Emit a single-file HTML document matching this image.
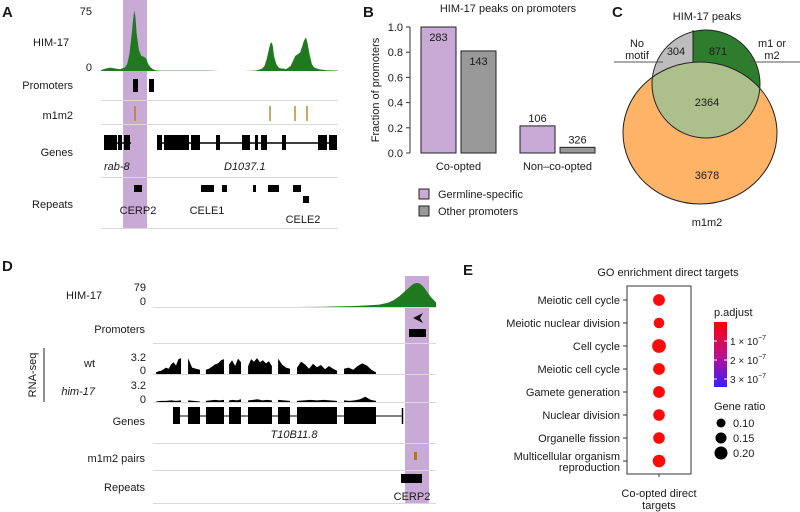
<!DOCTYPE html>
<html><head><meta charset="utf-8"><style>
html,body{margin:0;padding:0;background:#fff;}
svg{display:block;font-family:"Liberation Sans",Arial,sans-serif;}
text{fill:#1a1a1a;}
</style></head><body>
<svg id="fig" width="800" height="512" viewBox="0 0 800 512" xmlns="http://www.w3.org/2000/svg">
<defs>
<linearGradient id="padj" x1="0" y1="0" x2="0" y2="1">
<stop offset="0" stop-color="#ff0000"/><stop offset="0.5" stop-color="#c0108a"/><stop offset="1" stop-color="#3a1cff"/>
</linearGradient>
</defs>

<!-- ===== Panel A ===== -->
<g id="panelA">
<text x="2" y="17" font-size="15" font-weight="bold">A</text>
<rect x="123" y="0" width="24" height="228" fill="#c9a9d6"/>
<text x="33" y="46" font-size="11">HIM-17</text>
<text x="92" y="15" font-size="11" text-anchor="end">75</text>
<text x="92" y="71" font-size="11" text-anchor="end">0</text>
<path id="covA" fill="#1f7a1f"/>
<g stroke="#d9d9d9" stroke-width="1">
<line x1="101" y1="100.5" x2="338" y2="100.5"/><line x1="101" y1="124.5" x2="338" y2="124.5"/>
<line x1="101" y1="177.5" x2="338" y2="177.5"/><line x1="101" y1="228.5" x2="338" y2="228.5"/>
</g>
<text x="73" y="89" font-size="11" text-anchor="end">Promoters</text>
<rect x="133" y="79" width="5" height="13" fill="#000"/>
<rect x="149" y="79" width="5" height="13" fill="#000"/>
<text x="73" y="119" font-size="11" text-anchor="end">m1m2</text>
<g stroke="#b07a10" stroke-width="1.3">
<line x1="135" y1="106" x2="135" y2="121"/><line x1="270" y1="106" x2="270" y2="121"/>
<line x1="295" y1="106" x2="295" y2="121"/><line x1="307" y1="106" x2="307" y2="121"/>
</g>
<text x="73" y="156" font-size="11" text-anchor="end">Genes</text>
<g fill="#000">
<line x1="104" y1="143" x2="131" y2="143" stroke="#000" stroke-width="1.5"/>
<line x1="157" y1="143" x2="337" y2="143" stroke="#000" stroke-width="1.5"/>
<rect x="104" y="135" width="13" height="15"/><rect x="118" y="135" width="4" height="15"/><rect x="124" y="135" width="6" height="15"/>
<rect x="157" y="135" width="5" height="15"/><rect x="164" y="135" width="10" height="15"/><rect x="174" y="135" width="15" height="15"/>
<rect x="191" y="135" width="9" height="15"/><rect x="216" y="135" width="4" height="15"/><rect x="242" y="135" width="8" height="15"/>
<rect x="255" y="135" width="3" height="15"/><rect x="261" y="135" width="6" height="15"/><rect x="282" y="135" width="4" height="15"/>
<rect x="318" y="135" width="9" height="15"/><rect x="329" y="135" width="8" height="15"/>
</g>
<text x="104" y="170" font-size="11" font-style="italic">rab-8</text>
<text x="224" y="170" font-size="11" font-style="italic">D1037.1</text>
<text x="73" y="208" font-size="11" text-anchor="end">Repeats</text>
<g fill="#000">
<rect x="134" y="185" width="8" height="7"/><rect x="201" y="185" width="13" height="7"/><rect x="222" y="185" width="5" height="7"/>
<rect x="253" y="185" width="3" height="7"/><rect x="268" y="185" width="11" height="7"/><rect x="293" y="185" width="8" height="7"/>
<rect x="303" y="196" width="6" height="7"/>
</g>
<text x="138" y="214" font-size="11" text-anchor="middle">CERP2</text>
<text x="207" y="214" font-size="11" text-anchor="middle">CELE1</text>
<text x="303" y="223" font-size="11" text-anchor="middle">CELE2</text>
</g>

<!-- ===== Panel B ===== -->
<g id="panelB">
<text x="363" y="17" font-size="15" font-weight="bold">B</text>
<text x="508" y="12" font-size="11" text-anchor="middle">HIM-17 peaks on promoters</text>
<text transform="translate(379,90) rotate(-90)" font-size="11" text-anchor="middle">Fraction of promoters</text>
<g id="axisB"></g>
<g id="barsB"></g>
<rect x="419" y="189" width="10" height="10" fill="#c9a9d6" stroke="#222" stroke-width="1"/>
<text x="438" y="198" font-size="11">Germline-specific</text>
<rect x="419" y="206" width="10" height="10" fill="#999" stroke="#222" stroke-width="1"/>
<text x="438" y="215" font-size="11">Other promoters</text>
</g>

<!-- ===== Panel C ===== -->
<g id="panelC">
<text x="612" y="17" font-size="15" font-weight="bold">C</text>
<text x="707" y="20" font-size="11" text-anchor="middle">HIM-17 peaks</text>
<clipPath id="cTop"><circle cx="706" cy="84" r="54"/></clipPath>
<ellipse cx="700" cy="133" rx="77" ry="71" fill="#ffb366" stroke="#222" stroke-width="1"/>
<g clip-path="url(#cTop)">
<rect x="640" y="25" width="53" height="120" fill="#bdbdbd"/>
<rect x="693" y="25" width="80" height="120" fill="#2e7d2e"/>
<ellipse cx="700" cy="133" rx="77" ry="71" fill="#adbf8b" stroke="#222" stroke-width="1"/>
</g>
<circle cx="706" cy="84" r="54" fill="none" stroke="#222" stroke-width="1"/>
<line x1="693" y1="30" x2="693" y2="63" stroke="#222" stroke-width="1"/>
<line x1="614" y1="62" x2="663" y2="62" stroke="#555" stroke-width="1"/>
<line x1="750" y1="62" x2="800" y2="62" stroke="#555" stroke-width="1"/>
<text x="637" y="47" font-size="11" text-anchor="middle">No</text>
<text x="637" y="59" font-size="11" text-anchor="middle">motif</text>
<text x="772" y="47" font-size="11" text-anchor="middle">m1 or</text>
<text x="772" y="59" font-size="11" text-anchor="middle">m2</text>
<text x="676" y="55" font-size="11" text-anchor="middle">304</text>
<text x="718" y="55" font-size="11" text-anchor="middle">871</text>
<text x="707" y="106" font-size="11" text-anchor="middle">2364</text>
<text x="707" y="179" font-size="11" text-anchor="middle">3678</text>
<text x="707" y="226" font-size="11" text-anchor="middle">m1m2</text>
</g>

<!-- ===== Panel D ===== -->
<g id="panelD">
<text x="2" y="271" font-size="15" font-weight="bold">D</text>
<rect x="405" y="276" width="24" height="227" fill="#c9a9d6"/>
<text x="66" y="299" font-size="11">HIM-17</text>
<text x="146" y="291" font-size="11" text-anchor="end">79</text>
<text x="146" y="305" font-size="11" text-anchor="end">0</text>
<path id="covD" fill="#1f7a1f"/>
<g stroke="#d9d9d9" stroke-width="1">
<line x1="153" y1="307.5" x2="436" y2="307.5"/><line x1="153" y1="343.5" x2="436" y2="343.5"/>
<line x1="153" y1="374.5" x2="436" y2="374.5"/><line x1="153" y1="402.5" x2="436" y2="402.5"/>
<line x1="153" y1="443.5" x2="436" y2="443.5"/><line x1="153" y1="470.5" x2="436" y2="470.5"/>
<line x1="153" y1="503.5" x2="436" y2="503.5"/>
</g>
<text x="145" y="333" font-size="11" text-anchor="end">Promoters</text>
<path d="M413,318 L423,313 L420,318 L423,323 Z" fill="#111"/>
<rect x="409" y="329" width="17" height="8" fill="#000"/>
<line x1="44" y1="348" x2="44" y2="402" stroke="#222" stroke-width="1"/>
<text transform="translate(36,375) rotate(-90)" font-size="11" text-anchor="middle">RNA-seq</text>
<text x="95" y="367" font-size="11" text-anchor="end">wt</text>
<text x="146" y="361" font-size="11" text-anchor="end">3.2</text>
<text x="146" y="374" font-size="11" text-anchor="end">0</text>
<text x="95" y="395" font-size="11" font-style="italic" text-anchor="end">him-17</text>
<text x="146" y="389" font-size="11" text-anchor="end">3.2</text>
<text x="146" y="403" font-size="11" text-anchor="end">0</text>
<g id="rnaWt" fill="#000"></g>
<g id="rnaMut" fill="#000"></g>
<text x="145" y="425" font-size="11" text-anchor="end">Genes</text>
<g fill="#000">
<line x1="173" y1="416" x2="402" y2="416" stroke="#000" stroke-width="1"/>
<line x1="402.5" y1="408" x2="402.5" y2="424" stroke="#000" stroke-width="1.5"/>
<rect x="173" y="407" width="7" height="17"/><rect x="188" y="407" width="12" height="17"/><rect x="206" y="407" width="18" height="17"/>
<rect x="229" y="407" width="12" height="17"/><rect x="248" y="407" width="24" height="17"/><rect x="278" y="407" width="12" height="17"/>
<rect x="297" y="407" width="40" height="17"/><rect x="344" y="407" width="32" height="17"/>
</g>
<text x="294" y="438" font-size="11" font-style="italic" text-anchor="middle">T10B11.8</text>
<text x="145" y="462" font-size="11" text-anchor="end">m1m2 pairs</text>
<rect x="414" y="452" width="3" height="8" fill="#b07a10"/>
<text x="145" y="491" font-size="11" text-anchor="end">Repeats</text>
<rect x="401" y="474" width="21" height="9" fill="#000"/>
<text x="412" y="500" font-size="11" text-anchor="middle">CERP2</text>
</g>

<!-- ===== Panel E ===== -->
<g id="panelE">
<text x="463" y="275" font-size="15" font-weight="bold">E</text>
<text x="668" y="276" font-size="11" text-anchor="middle">GO enrichment direct targets</text>
<rect x="627" y="286" width="64" height="188" fill="none" stroke="#333" stroke-width="1"/>
<g id="dotsE"></g>
<line x1="659" y1="474" x2="659" y2="477" stroke="#333"/>
<text x="659" y="497" font-size="11" text-anchor="middle">Co-opted direct</text>
<text x="659" y="509" font-size="11" text-anchor="middle">targets</text>
<text x="714" y="316" font-size="11">p.adjust</text>
<rect x="714" y="322" width="13" height="65" fill="url(#padj)"/>
<g stroke="#fff" stroke-width="1">
<line x1="714" y1="341" x2="717" y2="341"/><line x1="724" y1="341" x2="727" y2="341"/>
<line x1="714" y1="360" x2="717" y2="360"/><line x1="724" y1="360" x2="727" y2="360"/>
<line x1="714" y1="379" x2="717" y2="379"/><line x1="724" y1="379" x2="727" y2="379"/>
</g>
<text x="730" y="345" font-size="10">1 × 10<tspan dy="-5" font-size="7">−7</tspan></text>
<text x="730" y="364" font-size="10">2 × 10<tspan dy="-5" font-size="7">−7</tspan></text>
<text x="730" y="383" font-size="10">3 × 10<tspan dy="-5" font-size="7">−7</tspan></text>
<text x="714" y="410" font-size="11">Gene ratio</text>
<g id="sizeLegend"></g>
</g>
</svg>

<script>
// ---- Panel A HIM-17 coverage (position % of window, signal) ----
const aPos = [0,2,4,6,8,10,11,12,13,13.5,14,14.5,15,16,17,18,19,20,21,22,23,25,30,35,40,45,50,60,65,66,68,69,70,71,71.5,72,72.5,73,74,75,76,77,78,79,80,81,82,83,84,85,85.5,86,86.5,87,88,89,90,92,95,100];
const aVal = [1,3,4,3,2,4,8,20,45,60,72,65,45,25,18,17,15,8,4,2,1,0.5,0.5,0.5,0.5,0.5,0,0,0.5,1,3,6,15,28,33,34,30,18,8,4,3,3,2,4,6,12,18,20,22,30,35,38,40,35,20,8,4,2,1,0.5];
// ---- Panel D HIM-17 coverage ----
const dPos = [0,50,60,65,70,75,80,83,85,87,89,91,92,93,94,95,96,97,98,100];
const dVal = [0,0,0.5,2,3,5,8,14,22,35,52,68,76,79,78,72,62,48,35,15];
// ---- Panel D RNA-seq (segments: start %, end %, values) ----
const rnaStart = [1.1,12.4,18.7,26.9,33.6,44.2,50.9,67.5];
const rnaEnd = [9.9,16.6,25.1,31.1,42,48.4,65,78.8];
const wtVals = [[0.3,0.5,0.6,0.9,1.2,1.0,1.8,2.2,1.6,2.8,3.0],[3.0,1.2,1.0,0.8],[0.8,1.0,1.4,1.8,2.0,2.6,2.8],[1.8,2.6,1.5,2.9,2.2],[1.5,2.8,2.3,3.0,2.2,2.6,2.0,2.4,1.5],[2.9,1.8,1.2,1.0],[1.2,2.3,1.8,1.0,1.9,1.3,1.7,0.9,1.5,1.0,0.6],[1.0,1.2,0.8,1.5,2.0,1.6,0.8,0.3]];
const mutVals = [[0.1,0.2,0.2,0.3,0.2,0.3],[0.3,0.2,0.1],[0.2,0.3,0.4,0.3,0.4],[0.3,0.4,0.3,0.5],[0.3,0.4,0.5,0.3,0.4,0.3],[0.4,0.3,0.2],[0.2,0.3,0.4,0.3,0.4,0.3,0.2],[0.3,0.2,0.3,0.5,1.0,0.4,0.2]];
// ---- Panel B ----
const bCategories = ["Co-opted","Non\u2013co-opted"];
const bGermline = [1.0, 0.215];
const bOther = [0.81, 0.045];
const bGermlineN = [283, 106];
const bOtherN = [143, 326];
const bTicks = [0,0.2,0.4,0.6,0.8,1.0];
// ---- Panel E ----
const eTerms = ["Meiotic cell cycle","Meiotic nuclear division","Cell cycle","Meiotic cell cycle","Gamete generation","Nuclear division","Organelle fission","Multicellular organism|reproduction"];
const eGeneRatio = [0.17,0.14,0.22,0.17,0.17,0.165,0.165,0.19];
const eLegendRatios = [0.10,0.15,0.20];

const NS = "http://www.w3.org/2000/svg";
function mk(tag, attrs, parent){const e=document.createElementNS(NS,tag);for(const k in attrs)e.setAttribute(k,attrs[k]);parent.appendChild(e);return e;}

function areaPath(pos, val, x0, w, base, h, vmax){
  let d = "M"+(x0+pos[0]/100*w)+","+base;
  for(let i=0;i<pos.length;i++) d += " L"+(x0+pos[i]/100*w).toFixed(1)+","+(base-val[i]/vmax*h).toFixed(1);
  d += " L"+(x0+pos[pos.length-1]/100*w)+","+base+" Z";
  return d;
}
document.getElementById("covA").setAttribute("d", areaPath(aPos,aVal,101,237,71,63,75));
document.getElementById("covD").setAttribute("d", areaPath(dPos,dVal,153,283,307,24,79));

function rna(gid, vals, base, h){
  const g=document.getElementById(gid);
  for(let s=0;s<rnaStart.length;s++){
    const v=vals[s], p=[], vv=[];
    for(let i=0;i<v.length;i++){p.push(rnaStart[s]+(rnaEnd[s]-rnaStart[s])*i/(v.length-1));vv.push(v[i]);}
    const path=mk("path",{d:areaPath(p,vv,153,283,base,h,3.2)},g);
    
    
  }
}
rna("rnaWt", wtVals, 374, 17);
rna("rnaMut", mutVals, 402, 17);

// Panel B axes & bars
const bY = v => 153 - v*126;
const ax=document.getElementById("axisB");
const axl=mk("line",{x1:410,y1:bY(0),x2:410,y2:bY(1),stroke:"#333","stroke-width":1},ax);


bTicks.forEach(t=>{
  const tl=mk("line",{x1:406,y1:bY(t),x2:410,y2:bY(t),stroke:"#333"},ax);
  
  
  const tx=mk("text",{x:403,y:bY(t)+4,"font-size":11,"text-anchor":"end"},ax);
  tx.textContent=t.toFixed(1);
  
  
});
const bars=document.getElementById("barsB");
const groupX=[421,520], bw=35, gap=5;
bCategories.forEach((c,i)=>{
  const specs=[[bGermline[i],bGermlineN[i],"#c9a9d6",groupX[i]],[bOther[i],bOtherN[i],"#999999",groupX[i]+bw+gap]];
  specs.forEach((s,j)=>{
    const r=mk("rect",{x:s[3],y:bY(s[0]),width:bw,height:bY(0)-bY(s[0]),fill:s[2],stroke:"#222","stroke-width":1},bars);
    
    
    const inside = (bY(0)-bY(s[0]))>30;
    const t=mk("text",{x:s[3]+bw/2,y:inside?bY(s[0])+14:bY(s[0])-4,"font-size":11,"text-anchor":"middle"},bars);
    t.textContent=s[1];
    
    
  });
  const ct=mk("text",{x:groupX[i]+bw+gap/2,y:170,"font-size":11,"text-anchor":"middle"},bars);
  ct.textContent=c;
  
  
});

// Panel E dots
const eRowY = i => 300 + i*23;
const eR = g => 4.5 + (g-0.10)*20;
const dots=document.getElementById("dotsE");
eTerms.forEach((t,i)=>{
  const y=eRowY(i);
  const tk=mk("line",{x1:623,y1:y,x2:627,y2:y,stroke:"#333"},dots);
  
  
  const parts=t.split("|");
  parts.forEach((p,k)=>{
    const tx=mk("text",{x:620,y:y+4+(parts.length>1?(k*11-5):0),"font-size":11,"text-anchor":"end"},dots);
    tx.textContent=p;
    
    
  });
  const c=mk("circle",{cx:659,cy:y,r:eR(eGeneRatio[i]),fill:"#ff0a0a"},dots);
  
  
});
const sl=document.getElementById("sizeLegend");
eLegendRatios.forEach((g,i)=>{
  const y=423+i*15;
  const c=mk("circle",{cx:721,cy:y,r:eR(g),fill:"#000"},sl);
  
  
  const t=mk("text",{x:733,y:y+4,"font-size":11},sl);
  t.textContent=g.toFixed(2);
  
  
});
</script>
</body></html>
